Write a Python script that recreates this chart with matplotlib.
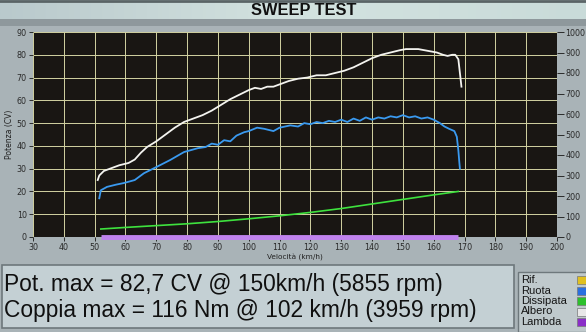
import matplotlib.pyplot as plt
import numpy as np
from matplotlib.patches import Rectangle

# curves (x = km/h, y = CV)
albero_x = [51, 51.5, 53, 55, 58, 61, 63, 65, 67, 70, 73, 76, 79, 82, 85, 88, 91, 94, 97,
            100, 102, 104, 106, 108, 110, 113, 116, 119, 122, 125, 128, 131, 134, 137, 140,
            143, 146, 149, 151, 153, 155, 157, 159, 161, 163, 164.5, 166, 167, 168, 168.5, 169]
albero_y = [25, 27, 29, 30, 31.5, 32.5, 34, 37, 39.5, 42, 45, 48, 50.5, 52, 53.5, 55.5, 58, 60.5, 62.5,
            64.5, 65.5, 65, 66, 66, 67, 68.5, 69.5, 70, 71, 71, 72, 73, 74.5, 76.5, 78.5,
            80, 81, 82, 82.5, 82.5, 82.5, 82, 81.5, 81, 80, 79.5, 80, 80, 78, 72, 66]

ruota_x = [51.5, 52, 54, 57, 59.5, 63, 66, 70, 74.5, 79, 83.5, 86, 88, 90, 92, 94, 96, 98.5,
           100, 102.7, 105, 108, 110, 113.5, 116, 118, 120, 122, 124, 126, 128, 130, 132, 134,
           136, 138, 140, 142, 144, 146, 148, 150, 152, 154, 156, 158, 160, 162, 163.5, 165,
           166.7, 167.5, 168, 168.3, 168.5]
ruota_y = [17, 20.5, 22, 23, 23.7, 25, 28, 30.7, 33.8, 37.3, 39, 39.5, 41, 40.5, 42.5, 42, 44.5, 46,
           46.5, 48, 47.5, 46.5, 48, 49, 48.5, 50, 49.5, 50.5, 50, 51, 50.5, 51.5, 50.5, 52,
           51, 52.5, 51.5, 52.5, 52, 53, 52.5, 53.5, 52.5, 53, 52, 52.5, 51.5, 50, 48.5, 47.5,
           46.5, 44, 38, 33, 30]

dissipata_x = [52, 60, 70, 80, 90, 100, 110, 120, 130, 140, 150, 160, 168]
dissipata_y = [3.5, 4.2, 5.0, 5.8, 6.8, 8.0, 9.3, 10.8, 12.5, 14.5, 16.5, 18.5, 20]

lambda_x = [52, 168]
lambda_y = [0, 0]

legend_names = ["Rif.", "Ruota", "Dissipata", "Albero", "Lambda"]
legend_cols = ["#e0c020", "#2a6fe0", "#2cc02c", "#e8e8e8", "#8a2ec8"]

riga1 = "Pot. max = 82,7 CV @ 150km/h (5855 rpm)"
riga2 = "Coppia max = 116 Nm @ 102 km/h (3959 rpm)"

W, H = 586, 332
fig = plt.figure(figsize=(W / 100, H / 100), dpi=100)
fig.patch.set_facecolor("#a9b3b7")

def px(x0, y0, x1, y1):
    # pixel box -> figure fraction rect
    return [x0 / W, 1 - y1 / H, (x1 - x0) / W, (y1 - y0) / H]

# title bar
tb = fig.add_axes(px(0, 0, W, 19))
grad = np.linspace(0, 1, 256).reshape(1, -1)
tb.imshow(grad, aspect="auto", cmap=plt.matplotlib.colors.LinearSegmentedColormap.from_list(
    "tb", ["#b9c9cc", "#d3e3e0", "#c9dbd9"]), extent=[0, 1, 0, 1])
tb.axhline(0.97, color="#5a6466", lw=2)
tb.set_axis_off()
tb.text(0.518, 0.45, "SWEEP TEST", ha="center", va="center", fontsize=11.8,
        fontweight="bold", family="Liberation Sans", color="#111111")
fig.patches.append(Rectangle((0, 1 - 26 / H), 1, 7 / H, transform=fig.transFigure,
                             facecolor="#8e989c", edgecolor="none"))

# main plot
ax = fig.add_axes(px(33, 32, 557, 237))
ax.set_facecolor("#191613")
ax.set_xlim(30, 200)
ax.set_ylim(0, 90)
ax.set_xticks(range(30, 201, 10))
ax.set_yticks(range(0, 91, 10))
ax.grid(True, color="#d2d2a2", lw=0.7)
ax.set_axisbelow(True)
for s in ax.spines.values():
    s.set_visible(False)
ax.tick_params(labelsize=5.8, colors="#2a2a2a", length=3, width=0.7, pad=1.5)
ax.set_xlabel("Velocità (km/h)", fontsize=5.3, labelpad=1, color="#222222")
ax.set_ylabel("Potenza (CV)", fontsize=5.5, labelpad=2, color="#222222")

ax.plot(dissipata_x, dissipata_y, color="#3ee23e", lw=1.2)
ax.plot(ruota_x, ruota_y, color="#3a9af0", lw=1.3)
ax.plot(albero_x, albero_y, color="#f4f4f0", lw=1.3)
ax.plot(lambda_x, lambda_y, color="#c083ee", lw=3.5, clip_on=False, solid_capstyle="butt")

ax2 = ax.twinx()
ax2.set_ylim(0, 1000)
ax2.set_yticks(range(0, 1001, 100))
for s in ax2.spines.values():
    s.set_visible(False)
ax2.tick_params(labelsize=5.8, colors="#2a2a2a", length=5, width=0.7, pad=1)

# bottom text panel
fig.patches.append(Rectangle((2 / W, 1 - 328 / H), 512 / W, 63 / H, transform=fig.transFigure,
                             facecolor="#c4d0d4", edgecolor="#6e787c", lw=1.2))
fig.text(4 / W, 1 - 285 / H, riga1, fontsize=16.4, family="Liberation Sans",
         va="center", ha="left", color="#101010")
fig.text(4 / W, 1 - 310 / H, riga2, fontsize=16.4, family="Liberation Sans",
         va="center", ha="left", color="#101010")

# legend panel
fig.patches.append(Rectangle((518 / W, 1 - 332 / H), 70 / W, 60 / H, transform=fig.transFigure,
                             facecolor="#bfc9cc", edgecolor="#6e787c", lw=1))
for i, (nm, c) in enumerate(zip(legend_names, legend_cols)):
    yy = 280 + i * 10.5
    fig.text(521 / W, 1 - yy / H, nm, fontsize=8, family="Liberation Sans",
             va="center", ha="left", color="#151515")
    fig.patches.append(Rectangle((577 / W, 1 - (yy + 4) / H), 10 / W, 8 / H,
                                 transform=fig.transFigure, facecolor=c,
                                 edgecolor="#777777", lw=0.5))

fig.savefig("out.png", dpi=100, facecolor=fig.get_facecolor())
